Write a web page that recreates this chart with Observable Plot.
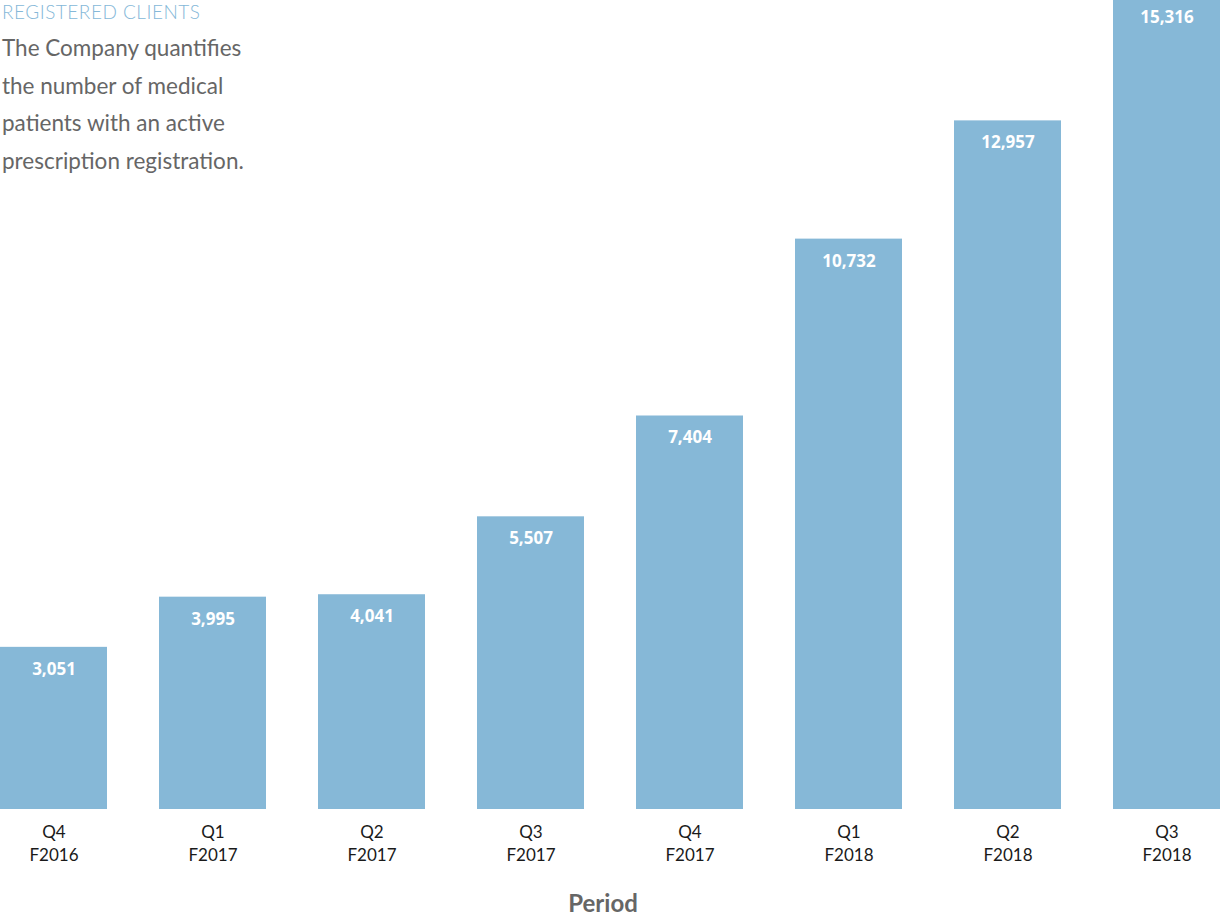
<!DOCTYPE html>
<html>
<head>
<meta charset="utf-8">
<script src="https://cdn.jsdelivr.net/npm/d3@7"></script>
<script src="https://cdn.jsdelivr.net/npm/@observablehq/plot@0.6"></script>
<style>
  html, body { margin: 0; padding: 0; overflow: hidden; background: #fff; width: 1223px; height: 916px; }
  #wrap { position: relative; width: 1223px; height: 916px; }
  #chart { position: absolute; left: 0; top: 0; }
  #title { position: absolute; left: 2px; top: 1px; font-family: Lato, sans-serif; font-weight: 300; font-size: 19px; line-height: 22px; color: #85b8d8; letter-spacing: 0.5px; white-space: nowrap; z-index: 2; }
  #sub { position: absolute; left: 2px; top: 29px; font-family: Lato, sans-serif; font-size: 22.5px; line-height: 37.5px; color: #666; white-space: nowrap; z-index: 2; }
</style>
</head>
<body>
<div id="wrap">
  <div id="chart"></div>
  <div id="title"></div>
  <div id="sub"></div>
</div>
<script>
const title = "REGISTERED CLIENTS";
const subtitleLines = ["The Company quantifies", "the number of medical", "patients with an active", "prescription registration."];
const quarters = ["Q4", "Q1", "Q2", "Q3", "Q4", "Q1", "Q2", "Q3"];
const years = ["F2016", "F2017", "F2017", "F2017", "F2017", "F2018", "F2018", "F2018"];
const values = [3051, 3995, 4041, 5507, 7404, 10732, 12957, 15316];
const axisTitle = "Period";

const periods = quarters.map((q, i) => q + "\n" + years[i]);
const data = periods.map((p, i) => ({period: p, value: values[i]}));

document.getElementById("title").textContent = title;
document.getElementById("sub").innerHTML = subtitleLines.map(s => `<div>${s}</div>`).join("");

const chart = Plot.plot({
  width: 1223,
  height: 916,
  marginLeft: 0,
  marginRight: 0,
  marginTop: 0,
  marginBottom: 107,
  style: {fontFamily: "Lato, sans-serif", background: "transparent", overflow: "visible"},
  x: {domain: periods, range: [-53, 1272], padding: 0.33, label: null},
  y: {domain: [0, 15316], range: [809, -5], axis: null},
  marks: [
    Plot.barY(data, {x: "period", y: "value", fill: "#86b8d7"}),
    Plot.text(data, {x: "period", y: "value", text: d => d3.format(",")(d.value), dy: 22, fill: "white", fontWeight: "bold", fontSize: 17, fontFamily: "'Open Sans', sans-serif"}),
    Plot.axisX({tickSize: 0, tickPadding: 12, fontSize: 17, fill: "#1a1a1a", label: null, lineHeight: 1.35}),
    Plot.text([axisTitle], {frameAnchor: "bottom", dy: 102, dx: -9, text: d => d, fontSize: 24, fontWeight: "bold", fill: "#666"})
  ]
});
document.getElementById("chart").appendChild(chart);
</script>
</body>
</html>
